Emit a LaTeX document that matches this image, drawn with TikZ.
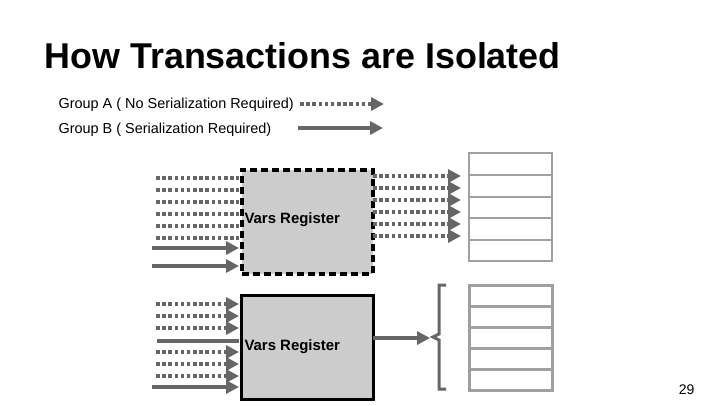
\documentclass[tikz,border=0pt]{standalone}
\usepackage{fontspec}
\setmainfont{Liberation Sans}
\usetikzlibrary{arrows.meta,decorations.pathreplacing}
\definecolor{arrgray}{HTML}{666666}
\definecolor{boxgray}{HTML}{CCCCCC}
\definecolor{tabgray}{HTML}{A0A0A0}
\tikzset{
  dotarr/.style = {arrgray, line width=3.6pt, dash pattern=on 3.6pt off 2.6pt},
  solarr/.style = {arrgray, line width=3.6pt},
  tip/.style = {-{Triangle[length=13pt,width=13pt]}},
}
\begin{document}
\begin{tikzpicture}[x=1bp, y=-1bp]
\useasboundingbox (0,0) rectangle (720,405);
\node[anchor=west, font=\bfseries\fontsize{36}{40}\selectfont] (title) at (41,56) {How Transactions are Isolated};
\node[anchor=west, font=\fontsize{14.5}{16}\selectfont] (grpA) at (55,105) {Group A ( No Serialization Required)};
\node[anchor=west, font=\fontsize{14.5}{16}\selectfont] (grpB) at (55,130) {Group B ( Serialization Required)};
\draw[dotarr, tip] (300,104) -- (384,104);
\draw[solarr, tip] (298,128) -- (383,128);

% upper register
\node[draw, fill=boxgray, line width=3.6pt, dash pattern=on 7pt off 4pt, minimum width=131bp, minimum height=104bp, anchor=north west, inner sep=0pt] (regA) at (240,168) {};
\node[anchor=west, font=\bfseries\fontsize{15}{17}\selectfont] at (241,220) {Vars Register};
\foreach \y in {178,190,202,214,226,238}
  \draw[dotarr] (156,\y) -- (239,\y);
\foreach \y in {248,266}
  \draw[solarr, tip] (152,\y) -- (239,\y);
\foreach \y in {176,188,200,212,224,236}
  \draw[dotarr, tip] (373,\y) -- (461,\y);
\draw[tabgray, line width=1.2pt] (469,153) rectangle (552,261);
\foreach \y in {175,197,218,240}
  \draw[tabgray, line width=1.2pt] (469,\y) -- (552,\y);

% lower register
\node[draw, fill=boxgray, line width=3pt, minimum width=132bp, minimum height=104bp, anchor=north west, inner sep=0pt] (regB) at (240,294) {};
\node[anchor=west, font=\bfseries\fontsize{15}{17}\selectfont] at (241,347) {Vars Register};
\foreach \y in {304,316,328,352,364,376}
  \draw[dotarr, tip] (156,\y) -- (239,\y);
\draw[solarr] (157,341) -- (239,341);
\draw[solarr, tip] (152,387) -- (239,387);
\draw[solarr, tip] (373,338) -- (430,338);
\draw[arrgray, line width=3pt] (446,285) -- (439,285) -- (439,334) -- (433,337) -- (439,340) -- (439,389) -- (446,389);
\draw[tabgray, line width=3pt] (469,285) rectangle (552,390);
\foreach \y in {306,327,348,369}
  \draw[tabgray, line width=3pt] (469,\y) -- (552,\y);

\node[anchor=east, font=\fontsize{14}{16}\selectfont] (pg) at (698,390) {29};
\end{tikzpicture}
\end{document}
